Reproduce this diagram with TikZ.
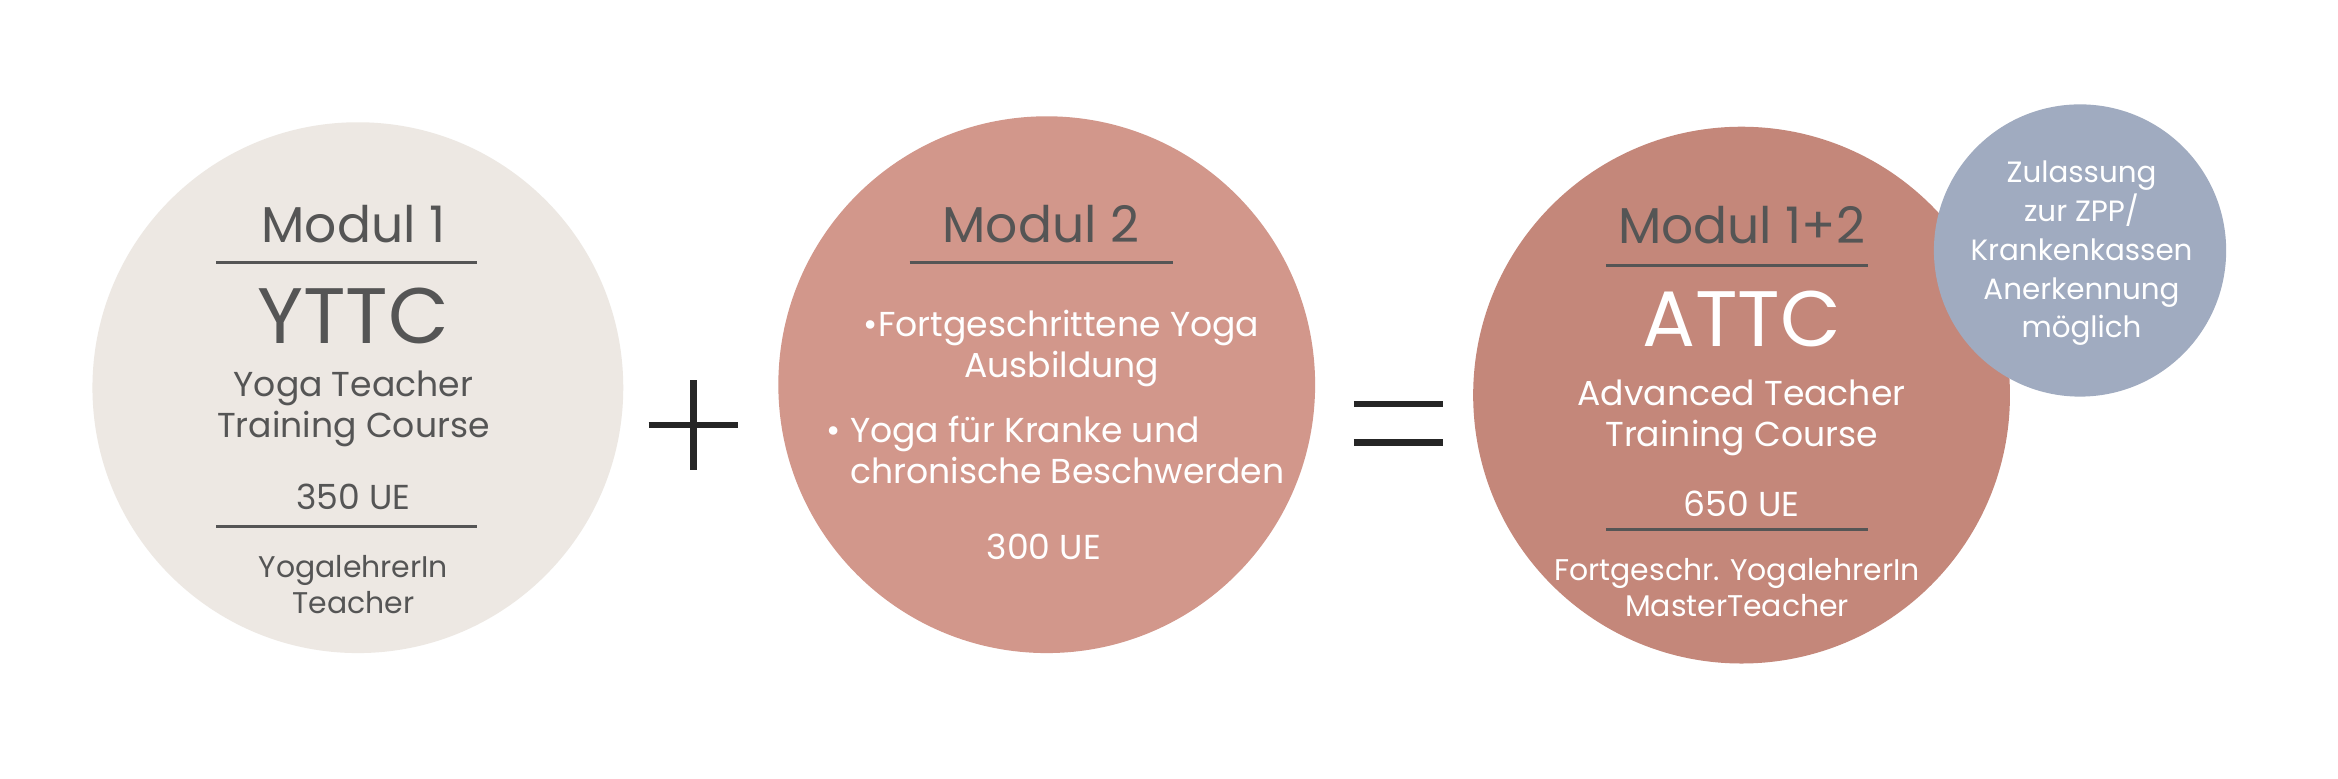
\documentclass[tikz,border=0pt]{standalone}
\usepackage{fontspec}
\setmainfont{Poppins}
\definecolor{cone}{HTML}{EDE8E3}
\definecolor{ctwo}{HTML}{D2978B}
\definecolor{cthree}{HTML}{C4877A}
\definecolor{cfour}{HTML}{A0ABC0}
\definecolor{tdark}{HTML}{555555}
\begin{document}
\begin{tikzpicture}[x=0.01cm,y=-0.01cm,
  txt/.style={align=center,inner sep=0pt,font=\fontsize{5.7}{7}\selectfont},
  mid/.style={align=center,inner sep=0pt,font=\fontsize{6.6}{7.8}\selectfont},
  big/.style={inner sep=0pt,font=\fontsize{9.6}{12}\selectfont},
  huge/.style={inner sep=0pt,font=\fontsize{15}{18}\selectfont},
  rule/.style={line width=0.5pt},
  sign/.style={line width=1.3pt,black!85}]
\useasboundingbox (0,0) rectangle (1568,522);
\fill[white] (0,0) rectangle (1568,522);
\node[circle,fill=cone,minimum size=356*0.01cm,inner sep=0pt] (c1) at (240,260) {};
\node[circle,fill=ctwo,minimum size=360*0.01cm,inner sep=0pt] (c2) at (702,258) {};
\node[circle,fill=cthree,minimum size=360*0.01cm,inner sep=0pt] (c3) at (1168,265) {};
\node[circle,fill=cfour,minimum size=196*0.01cm,inner sep=0pt] (c4) at (1395,168) {};
% module 1
\begin{scope}[tdark]
\node[big] (m1) at (237,150) {Modul 1};
\draw[rule] (145,176) coordinate (a1) -- (320,176) coordinate (a2);
\node[huge] (y1) at (237,212) {YTTC};
\node[mid] (y2) at (237,274) {Yoga Teacher\\Training Course};
\node[mid] (y3) at (237,333) {350 UE};
\draw[rule] (145,353) coordinate (a3) -- (320,353) coordinate (a4);
\node[txt] (y4) at (237,392) {YogalehrerIn\\Teacher};
\end{scope}
% plus, equals
\coordinate (plus) at (465,285);
\draw[sign] ([xshift=-30*0.01cm]plus) -- ([xshift=30*0.01cm]plus) ([yshift=30*0.01cm]plus) -- ([yshift=-30*0.01cm]plus);
\coordinate (eq) at (938,284);
\draw[sign] ([shift={(-30,-13)}]eq) -- ([shift={(30,-13)}]eq) ([shift={(-30,13)}]eq) -- ([shift={(30,13)}]eq);
% module 2
\node[big,tdark] (m2) at (698,150) {Modul 2};
\draw[rule,tdark] (610,176) coordinate (b1) -- (787,176) coordinate (b2);
\node[mid,white] (f1) at (712,234) {•Fortgeschrittene Yoga\\Ausbildung};
\node[mid,white,align=left] (f2) at (708,302) {• Yoga für Kranke und\\\phantom{• }chronische Beschwerden};
\node[mid,white] (f3) at (700,367) {300 UE};
% module 3
\node[big,tdark] (m3) at (1168,151) {Modul 1+2};
\draw[rule,tdark] (1077,178) coordinate (d1) -- (1253,178) coordinate (d2);
\node[huge,white] (at) at (1168,214) {ATTC};
\node[mid,white] (at2) at (1168,280) {Advanced Teacher\\Training Course};
\node[mid,white] (at3) at (1168,338) {650 UE};
\draw[rule,tdark] (1077,355) coordinate (d3) -- (1253,355) coordinate (d4);
\node[txt,white] (at4) at (1165,394) {Fortgeschr. YogalehrerIn\\MasterTeacher};
% small circle
\node[txt,white,font=\fontsize{5.6}{7.4}\selectfont] (z) at (1396,170) {Zulassung\\zur ZPP/\\Krankenkassen\\Anerkennung\\möglich};
\end{tikzpicture}
\end{document}
